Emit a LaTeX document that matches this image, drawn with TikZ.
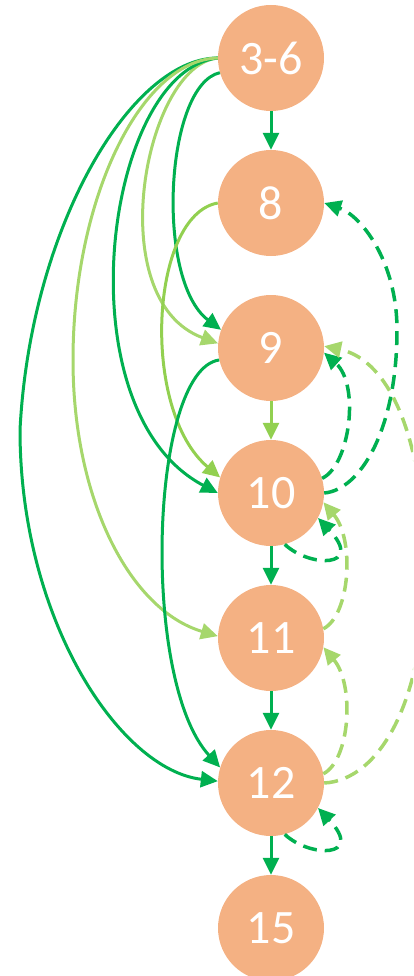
\documentclass[tikz,border=0pt]{standalone}
\usepackage{fontspec}
\setmainfont{Carlito}
\usetikzlibrary{arrows.meta}
\definecolor{nodefill}{HTML}{F4B183}
\definecolor{dkgreen}{HTML}{00B050}
\definecolor{ltgreen}{HTML}{92D050}
\definecolor{pagreen}{HTML}{A6D76C}
\tikzset{
  stnode/.style={circle, fill=nodefill, draw=none, minimum size=106pt, inner sep=0pt,
    text=white, font=\fontsize{48}{56}\selectfont},
  tip/.style={-{Triangle[length=17pt,width=16pt]}},
  dk/.style={tip, draw=dkgreen, line width=3pt},
  lt/.style={tip, draw=ltgreen, line width=3pt},
  pa/.style={tip, draw=pagreen, line width=3pt},
  dkd/.style={tip, draw=dkgreen, line width=3.5pt, dash pattern=on 14pt off 8pt},
  pad/.style={tip, draw=pagreen, line width=3.5pt, dash pattern=on 14pt off 8pt},
}
\begin{document}
\begin{tikzpicture}[x=1pt,y=-1pt]
\useasboundingbox (0,0) rectangle (413,976);
\clip (0,0) rectangle (413,976);
\node[stnode] (A) at (271,58) {3-6};
\node[stnode] (B) at (271,203) {8};
\node[stnode] (C) at (271,348) {9};
\node[stnode] (D) at (271,493) {10};
\node[stnode] (E) at (271,638) {11};
\node[stnode] (F) at (271,783) {12};
\node[stnode] (G) at (271,928) {15};
\coordinate (kF) at (20,430);
\coordinate (kE) at (73,360);
\coordinate (kB) at (397,330);
\coordinate (kC) at (425,570);
% straight arrows
\draw[dk] (A) -- (B);
\draw[lt] (C) -- (D);
\draw[dk] (D) -- (E);
\draw[dk] (E) -- (F);
\draw[dk] (F) -- (G);
% solid curves from 3-6
\draw[dk] (A.196) .. controls (165,85) and (155,280) .. (C.160);
\draw[pa] (A.180) .. controls (145,65) and (100,300) .. (C.175);
\draw[dk] (A.180) .. controls (105,70) and (60,410) .. (D.180);
\draw[dk] (A.180) .. controls (130,58) and (30,230) .. (kF) .. controls (20,620) and (120,770) .. (F.178);
\draw[pa] (A.180) .. controls (140,60) and (73,200) .. (kE) .. controls (73,500) and (130,610) .. (E.178);
% other solid curves
\draw[lt] (B.180) .. controls (150,215) and (140,410) .. (D.163);
\draw[dk] (C.193) .. controls (150,370) and (140,680) .. (F.163);
% dashed
\draw[dkd] (D.0) .. controls (360,490) and (397,430) .. (kB) .. controls (397,260) and (360,215) .. (B.0);
\draw[dkd] (D.16) .. controls (350,465) and (360,385) .. (C.-5);
\draw[dkd] (D.-75) .. controls (310,568) and (365,568) .. (D.-28);
\draw[dkd] (F.-75) .. controls (310,858) and (365,858) .. (F.-28);
\draw[pad] (E.10) .. controls (350,615) and (355,540) .. (D.-10);
\draw[pad] (F.10) .. controls (350,760) and (355,685) .. (E.-10);
\draw[pad] (F.0) .. controls (380,780) and (425,700) .. (kC) .. controls (425,440) and (390,360) .. (C.2);
\end{tikzpicture}
\end{document}
